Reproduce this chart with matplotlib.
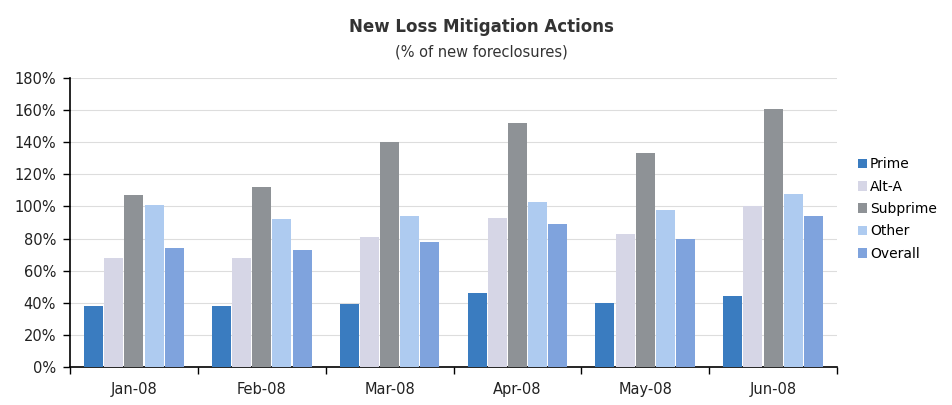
import numpy as np
import matplotlib
matplotlib.use("Agg")
import matplotlib.pyplot as plt
from matplotlib.ticker import MultipleLocator, FuncFormatter

plt.rcParams['font.family'] = ['DejaVu Sans']

months = ['Jan-08', 'Feb-08', 'Mar-08', 'Apr-08', 'May-08', 'Jun-08']
series_names = ['Prime', 'Alt-A', 'Subprime', 'Other', 'Overall']
prime = [38, 38, 39, 46, 40, 44]
alt_a = [68, 68, 81, 93, 83, 100]
subprime = [107, 112, 140, 152, 133, 161]
other = [101, 92, 94, 103, 98, 108]
overall = [74, 73, 78, 89, 80, 94]
colors = ['#3A7CC0', '#D6D6E6', '#8E9296', '#AECBF0', '#7FA3DD']

values = [prime, alt_a, subprime, other, overall]

fig = plt.figure(figsize=(9.52, 4.05), dpi=100)
ax = fig.add_axes([70 / 952, 1 - 367 / 405, 767 / 952, 289 / 405])

x = np.arange(len(months))
w = 0.158
for i, (name, vals) in enumerate(zip(series_names, values)):
    ax.bar(x + (i - 2) * w, vals, width=w * 0.94, color=colors[i], label=name, zorder=3)

ax.set_xlim(-0.5, len(months) - 0.5)
ax.set_ylim(0, 180)
ax.yaxis.set_major_locator(MultipleLocator(20))
ax.yaxis.set_major_formatter(FuncFormatter(lambda v, p: f'{int(v)}%'))
ax.grid(axis='y', color='#DDDDDD', linewidth=0.8, zorder=0)

ax.set_xticks(x)
ax.set_xticklabels(months)
ax.set_xticks(np.arange(len(months) + 1) - 0.5, minor=True)
ax.tick_params(axis='x', which='major', length=0, pad=11, labelsize=10.5, labelcolor='#222222')
ax.tick_params(axis='x', which='minor', length=5, direction='out', width=1)
ax.tick_params(axis='y', length=5, direction='out', width=1, labelsize=10.5, labelcolor='#222222', pad=5)

for s in ['top', 'right']:
    ax.spines[s].set_visible(False)
ax.spines['left'].set_linewidth(1.2)
ax.spines['bottom'].set_linewidth(1.2)

fig.text(481 / 952, 1 - 27 / 405, 'New Loss Mitigation Actions', ha='center', va='center',
         fontsize=12, fontweight='bold', color='#333333')
fig.text(481 / 952, 1 - 52 / 405, '(% of new foreclosures)', ha='center', va='center',
         fontsize=10.5, color='#333333')

leg = ax.legend(loc='center left', bbox_to_anchor=(852 / 952, 1 - 209 / 405),
                bbox_transform=fig.transFigure, frameon=False, fontsize=10,
                handlelength=0.7, handleheight=0.7, handletextpad=0.2, labelspacing=0.6,
                borderaxespad=0)

fig.savefig('out.png', dpi=100)
